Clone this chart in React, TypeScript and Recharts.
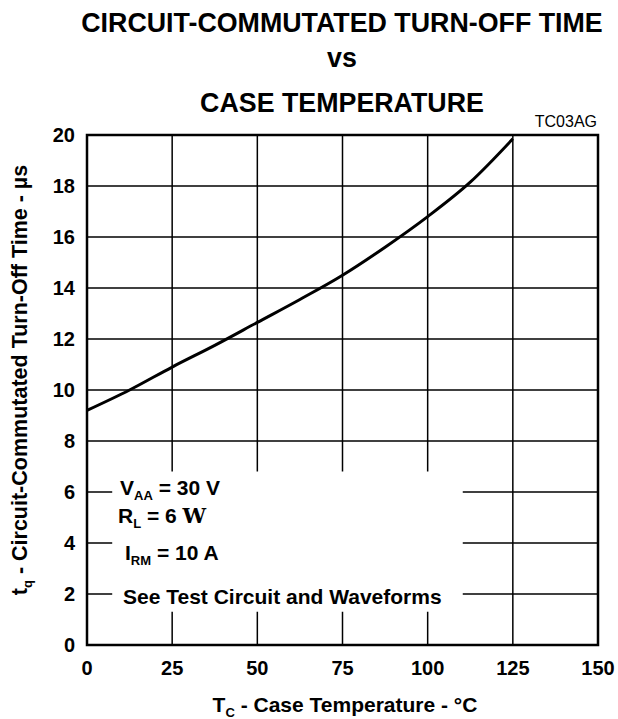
import React from 'react';
import {
  LineChart,
  CartesianGrid,
  XAxis,
  YAxis,
  Line,
  ReferenceArea,
} from 'recharts';

// case temperature (°C) and turn-off time (µs)
const temps = [0, 12.5, 25, 37.5, 50, 62.5, 75, 87.5, 100, 112.5, 125];
const tq = [9.2, 10.0, 10.9, 11.75, 12.65, 13.55, 14.5, 15.6, 16.8, 18.15, 19.85];

const xTicks = [0, 25, 50, 75, 100, 125, 150];
const yTicks = [0, 2, 4, 6, 8, 10, 12, 14, 16, 18, 20];

// white note box that blanks out the grid in the lower left
const noteBox = { x1: 7.4, x2: 110.3, y1: 1.3, y2: 6.8 };

const data = temps.map((t, i) => ({ t, tq: tq[i] }));

const FONT = '"Liberation Sans", Arial, Helvetica, sans-serif';

const tickStyle = { fontSize: 20, fontWeight: 700, fill: '#000', fontFamily: FONT };

const Overlay: React.FC = () => (
  <svg
    width={618}
    height={719}
    style={{ position: 'absolute', left: 0, top: 0, pointerEvents: 'none' }}
    fontFamily={FONT}
    fontWeight={700}
    fill="#000"
  >
    <text x={342} y={23} fontSize={26.8} textAnchor="middle" dominantBaseline="central">
      CIRCUIT-COMMUTATED TURN-OFF TIME
    </text>
    <text x={342} y={58} fontSize={26.8} textAnchor="middle" dominantBaseline="central">
      vs
    </text>
    <text x={342} y={103} fontSize={26.8} textAnchor="middle" dominantBaseline="central">
      CASE TEMPERATURE
    </text>
    <text x={597} y={121} fontSize={16} fontWeight={400} textAnchor="end" dominantBaseline="central">
      TC03AG
    </text>

    <text x={345} y={712} fontSize={21} textAnchor="middle">
      T<tspan fontSize={13} dy={5}>C</tspan>
      <tspan dy={-5}> - Case Temperature - °C</tspan>
    </text>

    <text
      x={0}
      y={0}
      fontSize={21.5}
      textAnchor="middle"
      transform="translate(27 380) rotate(-90)"
    >
      t<tspan fontSize={13} dy={5}>q</tspan>
      <tspan dy={-5}> - Circuit-Commutated Turn-Off Time - µs</tspan>
    </text>

    <text x={120} y={495} fontSize={21}>
      V<tspan fontSize={13} dy={5}>AA</tspan>
      <tspan dy={-5}> = 30 V</tspan>
    </text>
    <text x={118} y={523} fontSize={21}>
      R<tspan fontSize={13} dy={5}>L</tspan>
      <tspan dy={-5}> = 6 </tspan>
      <tspan fontFamily='"DejaVu Serif", serif' fontWeight={700}>W</tspan>
    </text>
    <text x={125} y={560} fontSize={21}>
      I<tspan fontSize={13} dy={5}>RM</tspan>
      <tspan dy={-5}> = 10 A</tspan>
    </text>
    <text x={123} y={604} fontSize={21}>
      See Test Circuit and Waveforms
    </text>
  </svg>
);

const App: React.FC = () => {
  return (
    <div style={{ position: 'absolute', left: 0, top: 0, width: 618, height: 719, background: '#fff' }}>
      <LineChart width={618} height={719} data={data} margin={{ top: 135, right: 20, left: 0, bottom: 0 }}>
        <CartesianGrid stroke="#000" strokeWidth={1.5} />
        <XAxis
          dataKey="t"
          type="number"
          domain={[0, 150]}
          ticks={xTicks}
          height={74}
          tickLine={false}
          axisLine={false}
          tickSize={0}
          tickMargin={16}
          tick={tickStyle}
          interval={0}
        />
        <YAxis
          type="number"
          domain={[0, 20]}
          ticks={yTicks}
          width={87}
          tickLine={false}
          axisLine={false}
          tickSize={0}
          tickMargin={12}
          tick={tickStyle}
          interval={0}
        />
        <ReferenceArea
          x1={noteBox.x1}
          x2={noteBox.x2}
          y1={noteBox.y1}
          y2={noteBox.y2}
          fill="#fff"
          fillOpacity={1}
          stroke="none"
        />
        <ReferenceArea x1={0} x2={150} y1={0} y2={20} fill="none" stroke="#000" strokeWidth={2.5} />
        <Line
          type="monotone"
          dataKey="tq"
          stroke="#000"
          strokeWidth={3}
          dot={false}
          isAnimationActive={false}
        />
      </LineChart>
      <Overlay />
    </div>
  );
};

export default App;
